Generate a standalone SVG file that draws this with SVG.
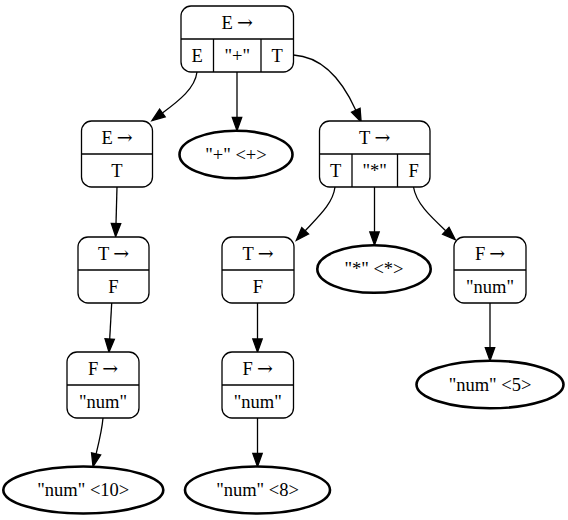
<svg xmlns="http://www.w3.org/2000/svg" width="568" height="520" viewBox="0 0 568 520">
<style>
text{font-family:"Liberation Serif","Times New Roman",serif;font-size:18.5px;text-anchor:middle;fill:#000}
.ar{font-family:"DejaVu Serif",serif;font-size:19px}
.box{fill:#fff;stroke:#000;stroke-width:1.3}
.ln{stroke:#000;stroke-width:1.3;fill:none}
.ell{fill:#fff;stroke:#000;stroke-width:2.6}
.edge{stroke:#000;stroke-width:1.3;fill:none;marker-end:url(#ah)}
</style>
<defs>
<marker id="ah" markerUnits="userSpaceOnUse" markerWidth="13" markerHeight="9.4" refX="0" refY="4.7" orient="auto" overflow="visible">
<path d="M0,0 L13,4.7 L0,9.4 z" fill="#000" stroke="#000" stroke-width="1.3"/>
</marker>
</defs>
<rect width="568" height="520" fill="#fff"/>
<g id="connectors">
<path class="edge" d="M197,72 C195,88 180,100 162.4,113"/>
<path class="edge" d="M237,72 L237,117.5"/>
<path class="edge" d="M293.5,55 C325,57 344,84 355.8,110.2"/>
<path class="edge" d="M117,187 L116,223.6"/>
<path class="edge" d="M111.7,303 L109.7,339"/>
<path class="edge" d="M103,418 C102,430 99,442 96.1,453.9"/>
<path class="edge" d="M257.5,303 L257.5,339"/>
<path class="edge" d="M257.5,418 L257.5,453.5"/>
<path class="edge" d="M335,187 C333,203 320,215 305.2,230.8"/>
<path class="edge" d="M374.5,187 L374.5,232"/>
<path class="edge" d="M413.5,187 C416,203 430,216 445.8,230.8"/>
<path class="edge" d="M490,303 L490,347.7"/>
</g>
<g id="n_root">
<rect class="box" x="181" y="6" width="112.5" height="66" rx="10"/>
<line class="ln" x1="181" y1="39" x2="293.5" y2="39"/>
<line class="ln" x1="213.5" y1="39" x2="213.5" y2="72"/>
<line class="ln" x1="261" y1="39" x2="261" y2="72"/>
<text x="237.2" y="28.5">E<tspan class="ar" dx="4">→</tspan></text>
<text x="197.2" y="61.5">E</text>
<text x="237.2" y="61.5">"+"</text>
<text x="277.2" y="61.5">T</text>
</g>
<g id="n_E1">
<rect class="box" x="81.5" y="121" width="71" height="66" rx="10"/>
<line class="ln" x1="81.5" y1="154" x2="152.5" y2="154"/>
<text x="117" y="143.5">E<tspan class="ar" dx="4">→</tspan></text>
<text x="117" y="176.5">T</text>
</g>
<g id="n_plus">
<ellipse class="ell" cx="236" cy="154.5" rx="56.5" ry="23.8"/>
<text x="236" y="160.5">"+" &lt;+&gt;</text>
</g>
<g id="n_T1">
<rect class="box" x="319.5" y="121" width="110.5" height="66" rx="10"/>
<line class="ln" x1="319.5" y1="154" x2="430" y2="154"/>
<line class="ln" x1="352" y1="154" x2="352" y2="187"/>
<line class="ln" x1="397.5" y1="154" x2="397.5" y2="187"/>
<text x="374.7" y="143.5">T<tspan class="ar" dx="4">→</tspan></text>
<text x="335.7" y="176.5">T</text>
<text x="374.7" y="176.5">"*"</text>
<text x="413.7" y="176.5">F</text>
</g>
<g id="n_T2">
<rect class="box" x="78" y="237" width="71" height="66" rx="10"/>
<line class="ln" x1="78" y1="270" x2="149" y2="270"/>
<text x="113.5" y="259.5">T<tspan class="ar" dx="4">→</tspan></text>
<text x="113.5" y="292.5">F</text>
</g>
<g id="n_T3">
<rect class="box" x="222" y="237" width="72" height="66" rx="10"/>
<line class="ln" x1="222" y1="270" x2="294" y2="270"/>
<text x="258" y="259.5">T<tspan class="ar" dx="4">→</tspan></text>
<text x="258" y="292.5">F</text>
</g>
<g id="n_star">
<ellipse class="ell" cx="374" cy="269" rx="56.7" ry="23.8"/>
<text x="374" y="275">"*" &lt;*&gt;</text>
</g>
<g id="n_F3">
<rect class="box" x="454" y="237" width="72" height="66" rx="10"/>
<line class="ln" x1="454" y1="270" x2="526" y2="270"/>
<text x="490" y="259.5">F<tspan class="ar" dx="4">→</tspan></text>
<text x="490" y="292.5">"num"</text>
</g>
<g id="n_F1">
<rect class="box" x="67" y="352" width="72" height="66" rx="10"/>
<line class="ln" x1="67" y1="385" x2="139" y2="385"/>
<text x="103" y="374.5">F<tspan class="ar" dx="4">→</tspan></text>
<text x="103" y="407.5">"num"</text>
</g>
<g id="n_F2">
<rect class="box" x="222" y="352" width="71.5" height="66" rx="10"/>
<line class="ln" x1="222" y1="385" x2="293.5" y2="385"/>
<text x="257.7" y="374.5">F<tspan class="ar" dx="4">→</tspan></text>
<text x="257.7" y="407.5">"num"</text>
</g>
<g id="n_num5">
<ellipse class="ell" cx="490" cy="384.5" rx="73.5" ry="23.8"/>
<text x="490" y="390.5">"num" &lt;5&gt;</text>
</g>
<g id="n_num10">
<ellipse class="ell" cx="83.3" cy="490" rx="80" ry="23.5"/>
<text x="83.3" y="496">"num" &lt;10&gt;</text>
</g>
<g id="n_num8">
<ellipse class="ell" cx="257.5" cy="490" rx="72.5" ry="23.5"/>
<text x="257.5" y="496">"num" &lt;8&gt;</text>
</g>
</svg>
